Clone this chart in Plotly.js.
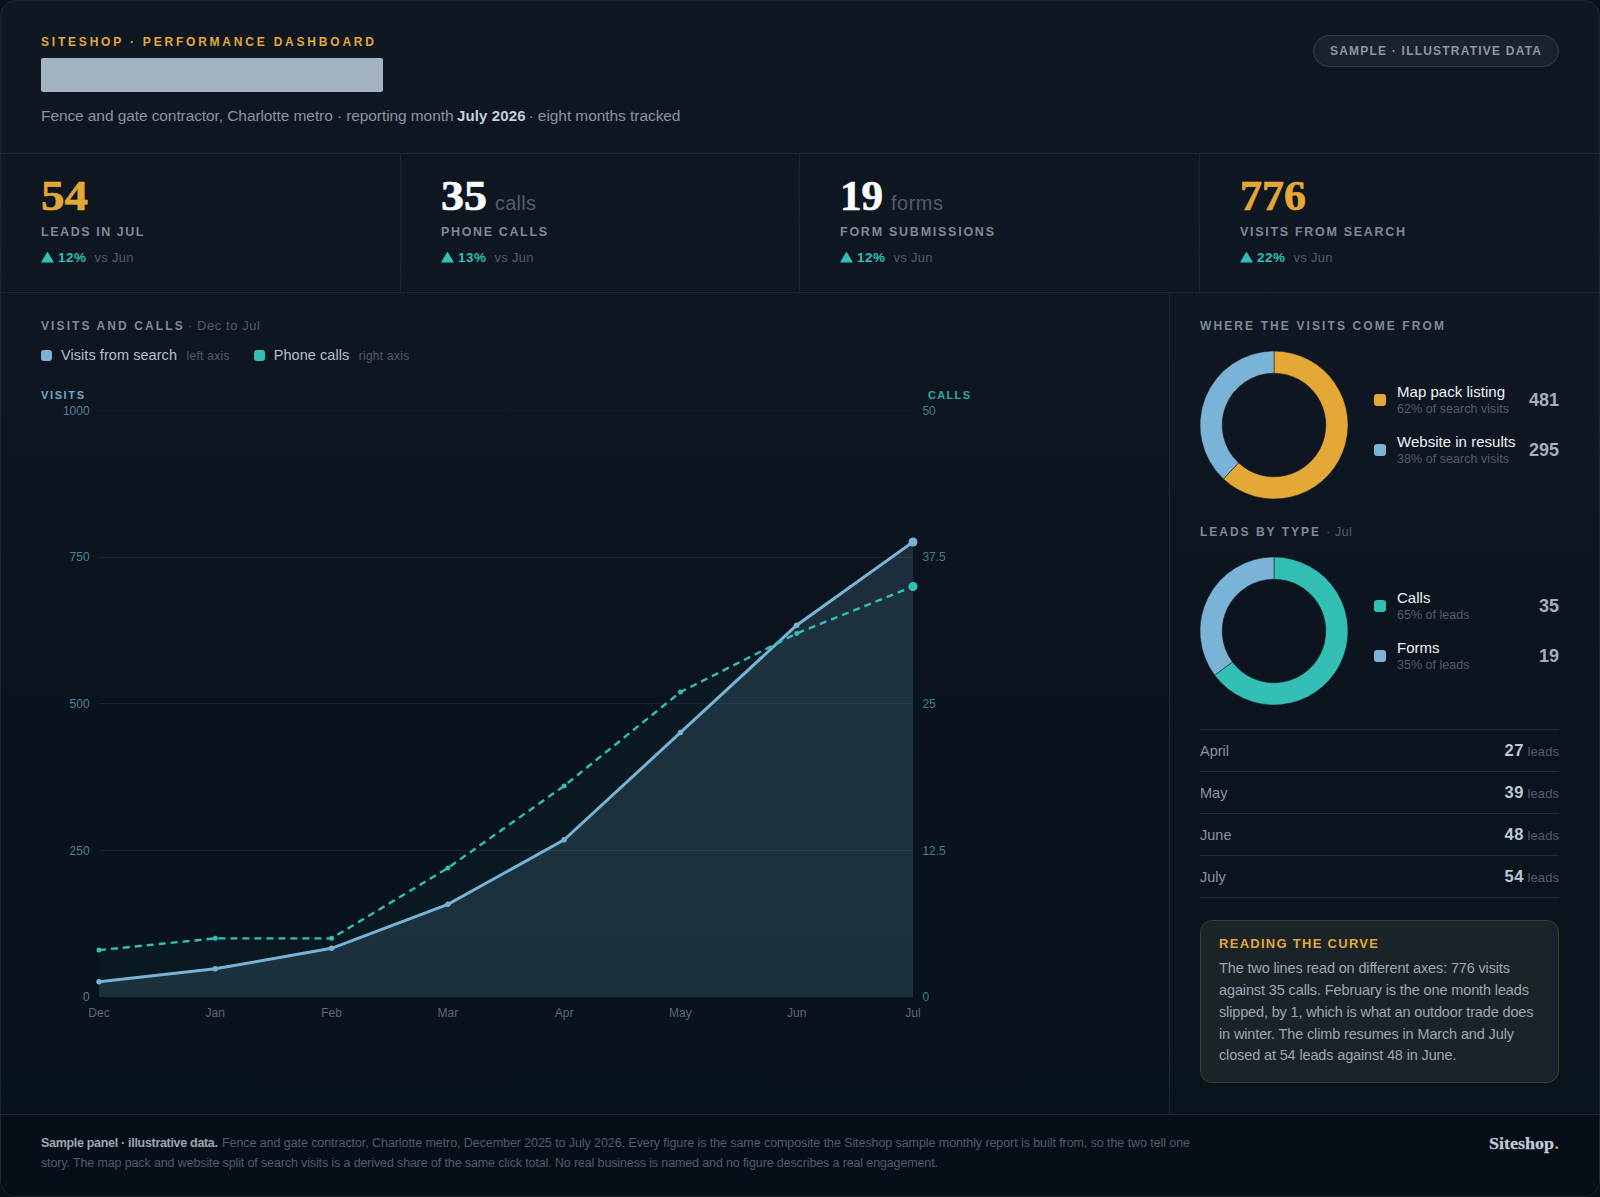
<!DOCTYPE html>
<html><head><meta charset="utf-8">
<script src="https://cdn.plot.ly/plotly-3.0.1.min.js"></script>
<style>
html,body{margin:0;padding:0;width:1600px;height:1197px;background:#0a0f16;overflow:hidden}
#card{position:absolute;left:0;top:0;width:1598px;height:1195px;border:1px solid #1c2733;border-radius:16px;overflow:hidden;
 background:linear-gradient(180deg,#0f1722 0%,#0e1621 30%,#0a131d 62%,#07131c 100%)}
.box{position:absolute;box-sizing:border-box}
#plot{position:absolute;left:0;top:0;width:1600px;height:1197px;z-index:2}
#txt{position:absolute;left:0;top:0;width:1600px;height:1197px;z-index:3;pointer-events:none}
#txt span{position:absolute;white-space:pre;font-family:"Liberation Sans",Arial,sans-serif}
</style></head><body>
<div id="card"></div>
<div id="plot"></div>
<div id="txt"></div>
<script>
// ---- data ----
const months = ["Dec","Jan","Feb","Mar","Apr","May","Jun","Jul"];
const visits = [26,48,83,158,268,451,634,776];
const calls = [4,5,5,11,18,26,31,35];
const leftTicks = [0,250,500,750,1000];
const rightTicks = [0,12.5,25,37.5,50];
const sourceLabels = ["Map pack listing","Website in results"];
const sourceValues = [481,295];
const sourceShares = ["62% of search visits","38% of search visits"];
const typeLabels = ["Calls","Forms"];
const typeValues = [35,19];
const typeShares = ["65% of leads","35% of leads"];
const tableMonths = ["April","May","June","July"];
const tableLeads = [27,39,48,54];
const kpiValues = ["54","35","19","776"];
const kpiUnits = ["","calls","forms",""];
const kpiLabels = ["LEADS IN JUL","PHONE CALLS","FORM SUBMISSIONS","VISITS FROM SEARCH"];
const kpiDeltas = ["12%","13%","12%","22%"];
const noteLines = ["The two lines read on different axes: 776 visits","against 35 calls. February is the one month leads","slipped, by 1, which is what an outdoor trade does","in winter. The climb resumes in March and July","closed at 54 leads against 48 in June."];

// ---- colours ----
const AMBER="#e3a836",TEAL="#33bfb3",BLUE="#7ab3d6",DIM="#4f5c6b",MID="#7d8a98";
const W=1600,H=1197;

// ---- page furniture ----
const card=document.getElementById('card');
function box(x,y,w,h,css){const d=document.createElement('div');d.className='box';
 d.style.cssText=`left:${x-1}px;top:${y-1}px;width:${w}px;height:${h}px;`+css;card.appendChild(d);return d;}
const LINE="#1c2733";
box(1169,293,431,821,"background:rgba(20,40,55,.08)");
box(0,1114,1600,90,"background:#060f17");
box(0,153,1600,1,"background:"+LINE);
box(0,292,1600,1,"background:"+LINE);
box(0,1114,1600,1,"background:"+LINE);
box(400,153,1,139,"background:"+LINE);
box(799,153,1,139,"background:"+LINE);
box(1199,153,1,139,"background:"+LINE);
box(1169,292,1,822,"background:"+LINE);
box(41,58,342,34,"background:#a3b2c1;border-radius:2px");
box(1313,35,246,32,"background:#1a222e;border:1px solid #333e4b;border-radius:16px");
box(41,350,11,11,"background:"+BLUE+";border-radius:3px");
box(254,350,11,11,"background:"+TEAL+";border-radius:3px");
[394,444].forEach((y,i)=>box(1374,y,12,12,"background:"+[AMBER,BLUE][i]+";border-radius:3px"));
[600,650].forEach((y,i)=>box(1374,y,12,12,"background:"+[TEAL,BLUE][i]+";border-radius:3px"));
[729,771,813,855,897].forEach(y=>box(1200,y,359,1,"background:#1a2a36"));
box(1200,920,359,163,"background:#1a2327;border:1px solid #423b25;border-radius:12px");
[41,441,840,1240].forEach(x=>{box(x,251.5,13,11,"background:"+TEAL+";clip-path:polygon(50% 0,100% 100%,0 100%)");});

// ---- text ----
const txt=document.getElementById('txt');
function T(s,x,cy,size,color,o={}){const e=document.createElement('span');e.textContent=s;
 e.style.fontSize=size+'px';e.style.color=color;e.style.lineHeight=size*1.2+'px';
 e.style.top=(cy-size*0.6)+'px';e.style.left=x+'px';e.style.fontWeight=o.b||400;
 if(o.f)e.style.fontFamily=o.f;txt.appendChild(e);
 if(o.stroke)e.style.webkitTextStroke=o.stroke+'px '+color;
 let w=e.getBoundingClientRect().width;
 if(o.sx&&o.w){e.style.transformOrigin='0 50%';e.style.transform=`scaleX(${o.w/w})`;w=o.w;}
 else if(o.w&&s.length>1){e.style.letterSpacing=((o.w-w)/(s.length-1))+'px';w=o.w;}
 if(o.r)e.style.left=(x-w)+'px';
 return e;}
const SERIF='"Liberation Serif",serif';
T("SITESHOP · PERFORMANCE DASHBOARD",41,41.7,12,AMBER,{b:700,w:333});
T("SAMPLE · ILLUSTRATIVE DATA",1330,51,12,"#8a97a5",{b:700,w:211});
T("Fence and gate contractor, Charlotte metro · reporting month",41,116,15.5,"#8794a3",{w:412.5});
T("July 2026",457,116,15,"#c6d0da",{b:700,w:68.5});
T("· eight months tracked",528.5,116,15.5,"#8794a3",{w:152});
const kx=[41,441,840,1240],ucx=[0,495,891,0],kc=[AMBER,"#fbfcfd","#fbfcfd",AMBER],kw=[47,46,43,66],lw=[102.5,106,154,165];
kpiValues.forEach((v,i)=>{
 T(v,kx[i],196,43,kc[i],{b:700,f:SERIF,w:kw[i],sx:1,stroke:0.7});
 if(kpiUnits[i])T(kpiUnits[i],ucx[i],203,20,DIM,{w:kpiUnits[i]==="calls"?41:52});
 T(kpiLabels[i],kx[i],232.5,12.5,MID,{b:700,w:lw[i]});
 T(kpiDeltas[i],kx[i]+17,257.7,13.5,TEAL,{b:700,w:28});
 T("vs Jun",kx[i]+53.5,257.7,13,DIM,{w:39});
});
T("VISITS AND CALLS",41,325.7,12,MID,{b:700,w:141.7});
T("· Dec to Jul",188,325.7,13,DIM,{w:72});
T("Visits from search",61,356,14.5,"#b5c0cb",{w:116});
T("left axis",186.5,355.7,12,DIM,{w:43});
T("Phone calls",273.7,356,14.5,"#b5c0cb",{w:75.5});
T("right axis",358.7,355.7,12,DIM,{w:50.5});
T("VISITS",41,396,11,"#6fa8c5",{b:700,w:43});
T("CALLS",970,396,11,"#2fa89e",{b:700,w:42,r:1});
T("WHERE THE VISITS COME FROM",1200,325.7,12,MID,{b:700,w:244});
T("LEADS BY TYPE",1200,531.7,12,MID,{b:700,w:119});
T("· Jul",1326,531.7,13,DIM,{w:26});
function legend(names,vals,shares,y0,nw,sw){names.forEach((n,i)=>{const y=y0+50*i;
 T(n,1397,y,15,"#eef2f5",{w:nw[i]});
 T(shares[i],1397,y+17.5,12.5,DIM,{w:sw});
 T(String(vals[i]),1559,y+8.5,18,"#a3b0bd",{b:700,r:1,w:String(vals[i]).length*10});
});}
legend(sourceLabels,sourceValues,sourceShares,392,[108,118.5],112);
legend(typeLabels,typeValues,typeShares,598,[33.5,42.5],72.5);
tableMonths.forEach((m,i)=>{const y=752+42*i;
 T(m,1200,y,14.5,"#8794a3",{});
 T(String(tableLeads[i]),1523.5,y-1,16.5,"#bcc8d3",{b:700,r:1,w:19});
 T("leads",1559,y,13,DIM,{r:1,w:31.5});
});
T("READING THE CURVE",1219,944,13,AMBER,{b:700,w:159});
const nw=[291,310,314.5,295,237.5],ny=[969,991,1013,1035,1056];
noteLines.forEach((l,i)=>T(l,1219,ny[i],14.5,"#9aa7b4",{w:nw[i]}));
T("Sample panel · illustrative data.",41,1143,12.5,"#9aa7b4",{b:700,w:177});
T("Fence and gate contractor, Charlotte metro, December 2025 to July 2026. Every figure is the same composite the Siteshop sample monthly report is built from, so the two tell one",222,1143,12.5,DIM,{w:968});
T("story. The map pack and website split of search visits is a derived share of the same click total. No real business is named and no figure describes a real engagement.",41,1163,12.5,DIM,{w:897});
T("Siteshop",1489,1143.5,17.5,"#c0ccd6",{b:700,f:SERIF,w:65,sx:1,stroke:0.25});
T(".",1554.5,1143.5,17.5,AMBER,{b:700,f:SERIF});

// ---- chart ----
const F='"Liberation Sans",Arial,sans-serif';
const marks=(a,s,l)=>a.map((_,i)=>i===a.length-1?l:s);
const traces=[
 {type:'scatter',x:months,y:visits,mode:'lines+markers',fill:'tozeroy',fillcolor:'rgba(122,179,214,0.16)',
  line:{color:BLUE,width:3},marker:{color:BLUE,opacity:1,line:{width:0},size:marks(visits,5.5,9)},cliponaxis:false,hoverinfo:'skip'},
 {type:'scatter',x:months,y:calls,yaxis:'y2',mode:'lines+markers',fill:'tozeroy',fillcolor:'rgba(51,191,179,0.04)',
  line:{color:TEAL,width:2.4,dash:'7px,5px'},marker:{color:TEAL,opacity:1,line:{width:0},size:marks(calls,5,9)},cliponaxis:false,hoverinfo:'skip'},
 {type:'pie',labels:sourceLabels,values:sourceValues,sort:false,direction:'clockwise',rotation:0,hole:0.7,
  domain:{x:[1200/W,1348/W],y:[1-499/H,1-351/H]},textinfo:'none',hoverinfo:'skip',
  marker:{colors:[AMBER,BLUE],line:{color:'#0d1622',width:0.5}},showlegend:false},
 {type:'pie',labels:typeLabels,values:typeValues,sort:false,direction:'clockwise',rotation:0,hole:0.7,
  domain:{x:[1200/W,1348/W],y:[1-705/H,1-557/H]},textinfo:'none',hoverinfo:'skip',
  marker:{colors:[TEAL,BLUE],line:{color:'#0d1622',width:0.5}},showlegend:false}
];
const layout={width:W,height:H,margin:{l:0,r:0,t:0,b:0},paper_bgcolor:'rgba(0,0,0,0)',plot_bgcolor:'rgba(0,0,0,0)',
 showlegend:false,font:{family:F,size:12},
 shapes:[{type:'line',xref:'x',yref:'y',x0:0,x1:7,y0:leftTicks[4],y1:leftTicks[4],line:{color:'#1a2530',width:1},layer:'below'}],
 xaxis:{domain:[99/W,913/W],anchor:'y',type:'category',categoryorder:'array',categoryarray:months,range:[0,7],showgrid:false,zeroline:false,showline:false,
  ticks:'outside',ticklen:5,tickcolor:'rgba(0,0,0,0)',tickfont:{family:F,size:12,color:'#5a6878'}},
 yaxis:{domain:[1-997/H,1-410.6/H],anchor:'x',range:[0,1000],tickvals:leftTicks,ticktext:leftTicks.map(String),gridcolor:'#1a2530',gridwidth:1,zeroline:false,showline:false,
  ticks:'outside',ticklen:6,tickcolor:'rgba(0,0,0,0)',tickfont:{family:F,size:12,color:'#4f8296'}},
 yaxis2:{domain:[1-997/H,1-410.6/H],anchor:'x',overlaying:'y',side:'right',range:[0,50],tickvals:rightTicks,ticktext:rightTicks.map(String),showgrid:false,zeroline:false,showline:false,
  ticks:'outside',ticklen:6,tickcolor:'rgba(0,0,0,0)',tickfont:{family:F,size:12,color:'#3f8285'}}
};
Plotly.newPlot('plot',traces,layout,{displayModeBar:false,staticPlot:true});
</script>
</body></html>
